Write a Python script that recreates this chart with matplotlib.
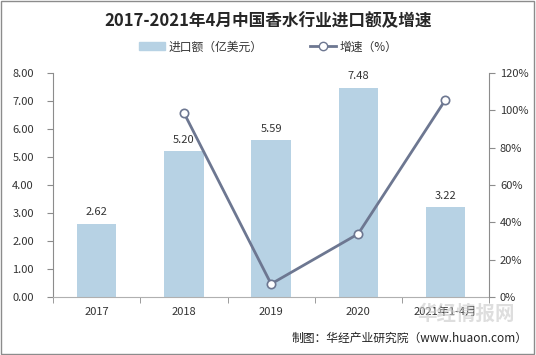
import matplotlib
matplotlib.use("Agg")
import matplotlib.pyplot as plt
from matplotlib.patches import Rectangle
from matplotlib.lines import Line2D
from matplotlib.ticker import FuncFormatter, FixedLocator

plt.rcParams['font.family'] = ['Noto Sans CJK SC', 'DejaVu Sans']

# 数据
years = ['2017', '2018', '2019', '2020', '2021年1-4月']
import_value = [2.62, 5.20, 5.59, 7.48, 3.22]
growth = [None, 98.6, 7.0, 33.8, 105.5]

bar_color = '#b7d2e4'
line_color = '#6d7791'
text_color = '#333333'

fig = plt.figure(figsize=(5.36, 3.55), dpi=100)
fig.patches.append(Rectangle((0.002, 0.003), 0.995, 0.993, transform=fig.transFigure,
                             fill=False, edgecolor='#8c8c8c', linewidth=1.0))

ax = fig.add_axes([0.0995, 0.1634, 0.8125, 0.631])
x = list(range(len(years)))
bars = ax.bar(x, import_value, width=0.45, color=bar_color, zorder=2)
for xi, v in zip(x, import_value):
    ax.text(xi, v + 0.22, f'{v:.2f}', ha='center', va='bottom', fontsize=8, color=text_color)

ax.set_xlim(-0.5, len(years) - 0.5)
ax.set_ylim(0, 8)
ax.set_yticks([i for i in range(9)])
ax.yaxis.set_major_formatter(FuncFormatter(lambda v, p: f'{v:.2f}'))
ax.set_xticks(x)
ax.set_xticklabels(years)
ax.xaxis.set_minor_locator(FixedLocator([i - 0.5 for i in range(len(years) + 1)]))
ax.tick_params(axis='x', which='major', length=0, pad=7, labelsize=8, labelcolor=text_color)
ax.tick_params(axis='x', which='minor', length=4, color='#8c8c8c', direction='out')
ax.tick_params(axis='y', length=4, color='#8c8c8c', labelsize=8, labelcolor=text_color, pad=10)
for s in ['top', 'right']:
    ax.spines[s].set_visible(False)
ax.spines['left'].set_color('#8c8c8c')
ax.spines['bottom'].set_color('#b0b0b0')

ax2 = ax.twinx()
gx = [xi for xi, g in zip(x, growth) if g is not None]
gy = [g for g in growth if g is not None]
ax2.plot(gx, gy, color=line_color, linewidth=2.0, marker='o', markersize=6,
         markerfacecolor='white', markeredgecolor=line_color, markeredgewidth=1.2, zorder=3)
ax2.set_ylim(0, 120)
ax2.set_yticks(list(range(0, 121, 20)))
ax2.yaxis.set_major_formatter(FuncFormatter(lambda v, p: f'{int(v)}%'))
ax2.tick_params(axis='y', length=4, color='#8c8c8c', labelsize=8, labelcolor=text_color, pad=4)
for s in ['top', 'left', 'bottom']:
    ax2.spines[s].set_visible(False)
ax2.spines['right'].set_color('#8c8c8c')

fig.text(0.5, 0.94, '2017-2021年4月中国香水行业进口额及增速', ha='center', va='center',
         fontsize=12, fontweight='bold', color='#262626')

handles = [Rectangle((0, 0), 1, 1, color=bar_color),
           Line2D([0], [0], color=line_color, linewidth=2.0, marker='o', markersize=6,
                  markerfacecolor='white', markeredgecolor=line_color)]
fig.legend(handles, ['进口额（亿美元）', '增速（%）'], loc='center', bbox_to_anchor=(0.5, 0.868),
           ncol=2, frameon=False, fontsize=8.5, columnspacing=4, handlelength=2.2,
           handletextpad=0.3, labelcolor=text_color)

fig.text(0.985, 0.048, '制图：华经产业研究院（www.huaon.com）', ha='right', va='center',
         fontsize=8.5, color='#222222')
fig.text(0.87, 0.115, '华经情报网', ha='center', va='center', fontsize=14, fontweight='bold',
         color='#c8c8c8', alpha=0.6, zorder=0)

fig.savefig('out.png', dpi=100)
